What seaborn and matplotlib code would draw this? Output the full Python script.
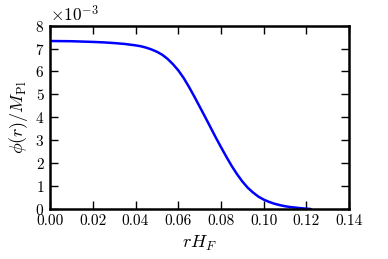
import matplotlib
matplotlib.use('Agg')
import matplotlib.pyplot as plt
import seaborn as sns
import numpy as np
import pandas as pd

# profile (phi in units of 1e-3 M_Pl)
r_hf = [0.0, 0.01, 0.02, 0.025, 0.03, 0.035, 0.04, 0.0425, 0.045, 0.0475,
        0.05, 0.0525, 0.055, 0.0575, 0.06, 0.0625, 0.065, 0.0675, 0.07, 0.0725,
        0.075, 0.0775, 0.08, 0.0825, 0.085, 0.0875, 0.09, 0.0925, 0.095, 0.0975,
        0.10, 0.1025, 0.105, 0.1075, 0.11, 0.1125, 0.115, 0.1175, 0.12, 0.122]
phi = [7.33, 7.32, 7.29, 7.27, 7.24, 7.20, 7.14, 7.10, 7.04, 6.96,
       6.86, 6.73, 6.55, 6.32, 6.05, 5.72, 5.33, 4.91, 4.47, 4.03,
       3.58, 3.13, 2.70, 2.28, 1.88, 1.52, 1.20, 0.93, 0.72, 0.54,
       0.41, 0.31, 0.23, 0.17, 0.12, 0.085, 0.06, 0.035, 0.015, 0.0]
x_ticks = [0.0, 0.02, 0.04, 0.06, 0.08, 0.10, 0.12, 0.14]
y_ticks = [0, 1, 2, 3, 4, 5, 6, 7, 8]

sns.set_style('ticks', {'axes.edgecolor': 'black', 'xtick.color': 'black',
                        'ytick.color': 'black', 'text.color': 'black',
                        'axes.labelcolor': 'black'})
plt.rcParams['font.family'] = 'serif'
plt.rcParams['font.serif'] = ['cmr10', 'DejaVu Serif']
plt.rcParams['mathtext.fontset'] = 'cm'
plt.rcParams['axes.formatter.use_mathtext'] = True

df = pd.DataFrame({'r': r_hf, 'phi': np.array(phi) * 1e-3})

fig = plt.figure(figsize=(3.88, 2.59), dpi=100)
ax = fig.add_axes([0.129, 0.193, 0.771, 0.708])
sns.lineplot(data=df, x='r', y='phi', ax=ax, color='#0000ff', linewidth=1.8)

ax.set_xlim(0, 0.14)
ax.set_ylim(0, 8e-3)
ax.set_xticks(x_ticks)
ax.set_yticks(np.array(y_ticks) * 1e-3)
ax.xaxis.set_major_formatter(matplotlib.ticker.FormatStrFormatter('%.2f'))
ax.ticklabel_format(axis='y', style='sci', scilimits=(0, 0), useMathText=True)
ax.tick_params(direction='in', length=6, width=1, top=True, right=True,
               labelsize=11, pad=4)
ax.yaxis.get_offset_text().set_fontsize(12.5)
for s in ax.spines.values():
    s.set_linewidth(1.8)
ax.set_xlabel(r'$rH_F$', fontsize=13)
ax.set_ylabel(r'$\phi(r)/M_{\rm Pl}$', fontsize=13)

fig.savefig('out.png', dpi=100)
plt.close()
